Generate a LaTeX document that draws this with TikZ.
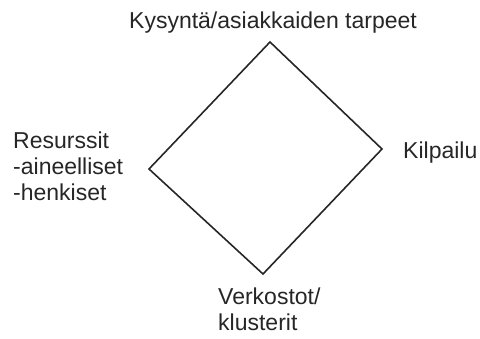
\documentclass[tikz,border=0pt]{standalone}
\usepackage{fontspec}
\setmainfont{Liberation Sans}
\begin{document}
\begin{tikzpicture}[x=1pt,y=-1pt,
  lbl/.style={inner sep=0pt, font=\fontsize{23}{26}\selectfont, text=black!85},
  edge/.style={draw=black!85, line width=1.6pt, line join=miter}]
\useasboundingbox (0,0) rectangle (480,338);
\coordinate (top) at (270,42);
\coordinate (right) at (382,149);
\coordinate (bottom) at (263,274);
\coordinate (left) at (149,169);
\draw[edge] (top) -- (right) -- (bottom) -- (left) -- cycle;
\node[lbl, anchor=north] (demand) at (273,12) {Kysyntä/asiakkaiden tarpeet};
\node[lbl, anchor=north west, align=left] (resources) at (13,132) {Resurssit\\-aineelliset\\-henkiset};
\node[lbl, anchor=north west] (competition) at (403,142) {Kilpailu};
\node[lbl, anchor=north west, align=left] (networks) at (218,288) {Verkostot/\\klusterit};
\end{tikzpicture}
\end{document}
